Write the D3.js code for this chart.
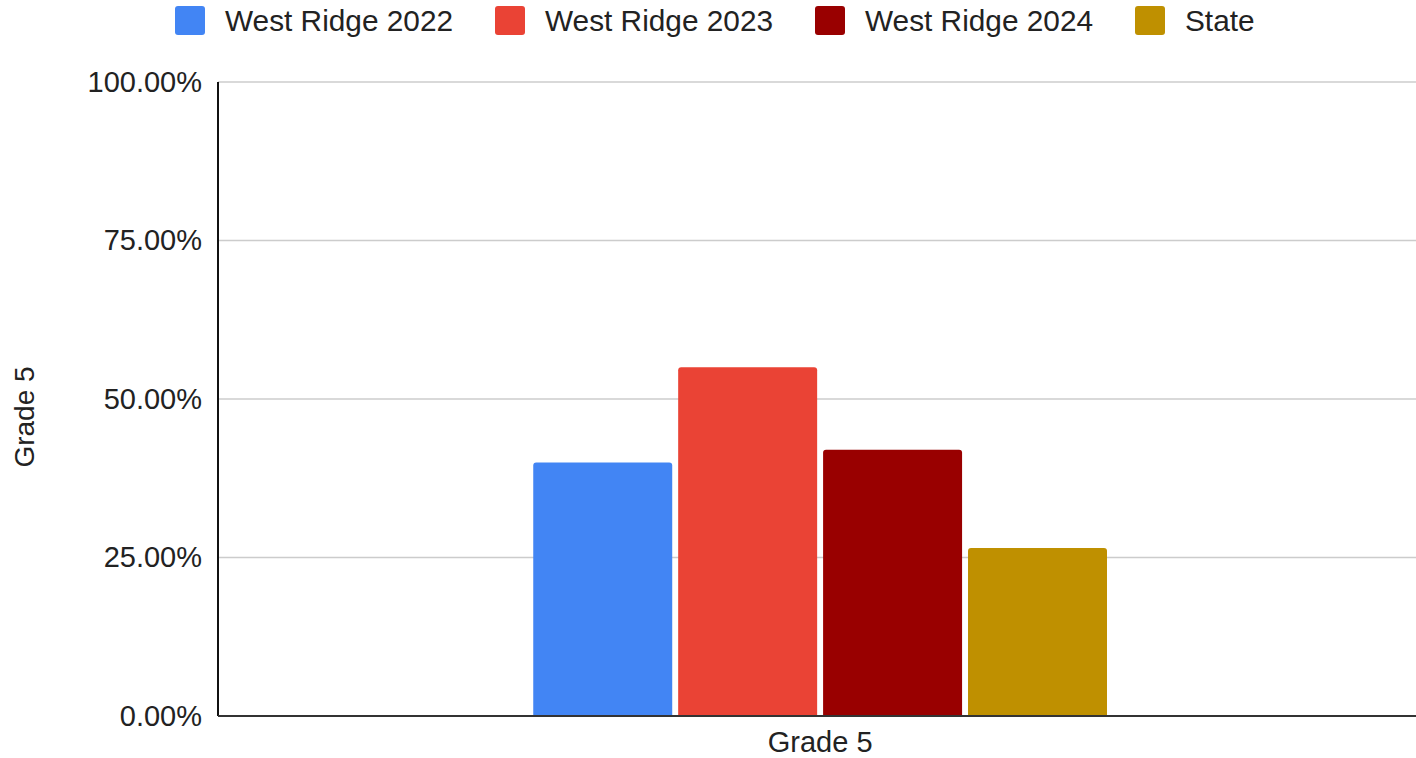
<!DOCTYPE html>
<html>
<head>
<meta charset="utf-8">
<script src="https://cdn.jsdelivr.net/npm/d3@7"></script>
<style>
  body { margin: 0; background: #fff; }
  svg { display: block; font-family: "Liberation Sans", Arial, sans-serif; }
</style>
</head>
<body>
<div id="chart"></div>
<script>
var categories = ["Grade 5"];
var seriesNames = ["West Ridge 2022", "West Ridge 2023", "West Ridge 2024", "State"];
var seriesValues = [[0.40], [0.55], [0.42], [0.265]];
var seriesColors = ["#4285f4", "#ea4335", "#990000", "#bf9000"];
var yTicks = [0, 0.25, 0.5, 0.75, 1];

var svgWidth = 1416;
var svgHeight = 758;

var margin = { top: 82, bottom: 42, right: 0, left: 218 };
var width = svgWidth - margin.left - margin.right;
var height = svgHeight - margin.top - margin.bottom;

var svg = d3.select("#chart")
  .append("svg")
  .attr("width", svgWidth)
  .attr("height", svgHeight);

var chartGroup = svg.append("g")
  .attr("transform", `translate(${margin.left}, ${margin.top})`);

var x0 = d3.scaleBand()
  .domain(categories)
  .range([0, width])
  .paddingInner(0)
  .paddingOuter(0.544)
  .align(0.505);

var x1 = d3.scaleBand()
  .domain(seriesNames)
  .range([0, x0.bandwidth()])
  .paddingInner(0.041)
  .paddingOuter(0);

var y = d3.scaleLinear()
  .domain([0, 1])
  .range([height, 0]);

// gridlines
chartGroup.append("g")
  .selectAll("line")
  .data(yTicks.slice(1))
  .enter()
  .append("line")
  .attr("x1", 0)
  .attr("x2", width)
  .attr("y1", d => y(d))
  .attr("y2", d => y(d))
  .attr("stroke", "#cccccc")
  .attr("stroke-width", 1.5);

// y axis labels
var yAxis = d3.axisLeft(y).tickValues(yTicks).tickFormat(d3.format(".2%")).tickSize(0).tickPadding(16);
var yAxisG = chartGroup.append("g").call(yAxis);
yAxisG.select(".domain").remove();
yAxisG.selectAll("text")
  .attr("font-size", 29)
  .attr("fill", "#222")
  .attr("font-family", "Liberation Sans, Arial, sans-serif");

// bars with rounded tops
var r = 3;
function barPath(xp, yp, w, h) {
  var rr = Math.min(r, h);
  return `M${xp},${yp + h} L${xp},${yp + rr} Q${xp},${yp} ${xp + rr},${yp} L${xp + w - rr},${yp} Q${xp + w},${yp} ${xp + w},${yp + rr} L${xp + w},${yp + h} Z`;
}

categories.forEach(function(cat, ci) {
  var g = chartGroup.append("g").attr("transform", `translate(${x0(cat)},0)`);
  g.selectAll("path")
    .data(seriesNames.map((s, si) => ({ name: s, value: seriesValues[si][ci], color: seriesColors[si] })))
    .enter()
    .append("path")
    .attr("d", d => barPath(x1(d.name), y(d.value), x1.bandwidth(), height - y(d.value)))
    .attr("fill", d => d.color);
});

// axis lines
chartGroup.append("line")
  .attr("x1", 0).attr("x2", 0)
  .attr("y1", 0).attr("y2", height)
  .attr("stroke", "#111").attr("stroke-width", 2);

chartGroup.append("line")
  .attr("x1", 0).attr("x2", width)
  .attr("y1", height).attr("y2", height)
  .attr("stroke", "#333").attr("stroke-width", 2);

// x labels
chartGroup.selectAll(".xlabel")
  .data(categories)
  .enter()
  .append("text")
  .attr("x", d => x0(d) + x0.bandwidth() / 2)
  .attr("y", height + 36)
  .attr("text-anchor", "middle")
  .attr("font-size", 29)
  .attr("fill", "#222")
  .text(d => d);

// y title
svg.append("text")
  .attr("transform", `translate(34, ${margin.top + height / 2 + 18}) rotate(-90)`)
  .attr("text-anchor", "middle")
  .attr("font-size", 28)
  .attr("fill", "#222")
  .text("Grade 5");

// legend
var legendX = [175, 495, 815, 1135];
var legend = svg.append("g");
var items = legend.selectAll("g")
  .data(seriesNames)
  .enter()
  .append("g")
  .attr("transform", (d, i) => `translate(${legendX[i]}, 6)`);

items.append("rect")
  .attr("width", 30)
  .attr("height", 29)
  .attr("rx", 3)
  .attr("fill", (d, i) => seriesColors[i]);

items.append("text")
  .attr("x", 50)
  .attr("y", 25)
  .attr("font-size", 29.8)
  .attr("fill", "#222")
  .text(d => d);
</script>
</body>
</html>
